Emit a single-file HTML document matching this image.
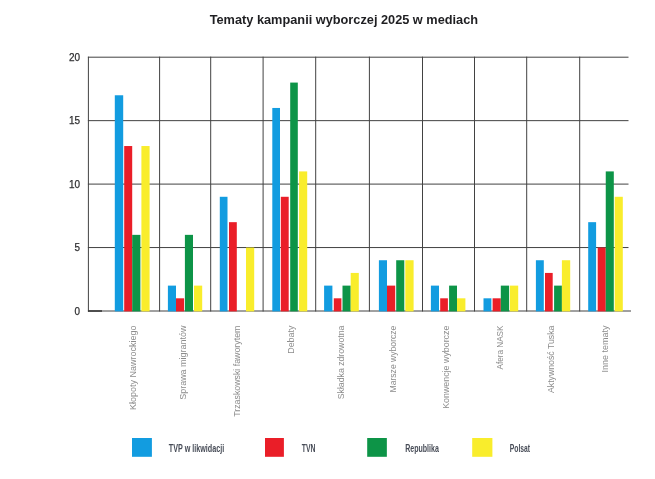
<!DOCTYPE html>
<html lang="pl"><head><meta charset="utf-8"><title>Tematy kampanii wyborczej 2025 w mediach</title>
<style>
html,body{margin:0;padding:0;background:#fff;}
body{width:655px;height:479px;overflow:hidden;position:relative;font-family:"Liberation Sans",sans-serif;}
svg{position:absolute;left:0;top:0;display:block;}
text{font-family:"Liberation Sans",sans-serif;}
.title{font-weight:bold;font-size:13px;fill:#1f1f22;}
.yl{font-size:10.5px;fill:#2e2e30;stroke:#2e2e30;stroke-width:0.25px;text-anchor:end;}
.xl{font-size:9.6px;fill:#8c8c8c;}
.lg{font-size:10.3px;font-weight:bold;fill:#474c57;}
</style></head><body>
<svg width="655" height="479" viewBox="0 0 655 479">
<rect width="655" height="479" fill="#ffffff"/>
<text class="title" x="209.7" y="24" textLength="268.4" lengthAdjust="spacingAndGlyphs">Tematy kampanii wyborczej 2025 w mediach</text>
<g stroke="#424242" stroke-width="1" fill="none">
<line x1="87.9" y1="57.20" x2="628.5" y2="57.20"/>
<line x1="87.9" y1="120.65" x2="628.5" y2="120.65"/>
<line x1="87.9" y1="184.10" x2="628.5" y2="184.10"/>
<line x1="87.9" y1="247.55" x2="628.5" y2="247.55"/>
<line x1="88.4" y1="56.70" x2="88.4" y2="311.50"/>
<line x1="159.6" y1="56.70" x2="159.6" y2="311.50"/>
<line x1="210.7" y1="56.70" x2="210.7" y2="311.50"/>
<line x1="263.1" y1="56.70" x2="263.1" y2="311.50"/>
<line x1="315.7" y1="56.70" x2="315.7" y2="311.50"/>
<line x1="369.4" y1="56.70" x2="369.4" y2="311.50"/>
<line x1="422.5" y1="56.70" x2="422.5" y2="311.50"/>
<line x1="474.5" y1="56.70" x2="474.5" y2="311.50"/>
<line x1="526.7" y1="56.70" x2="526.7" y2="311.50"/>
<line x1="579.7" y1="56.70" x2="579.7" y2="311.50"/>
<line x1="87.9" y1="311.00" x2="631" y2="311.00"/>
</g>
<rect x="88" y="310.20" width="14" height="1.6" fill="#3a3a3a"/>
<rect x="114.80" y="95.27" width="8.40" height="216.13" fill="#129ce0"/>
<rect x="124.20" y="146.03" width="8.00" height="165.37" fill="#ea1e28"/>
<rect x="132.20" y="234.86" width="8.20" height="76.54" fill="#0d9447"/>
<rect x="141.40" y="146.03" width="8.20" height="165.37" fill="#f9ed2c"/>
<rect x="167.90" y="285.62" width="8.10" height="25.78" fill="#129ce0"/>
<rect x="176.00" y="298.31" width="8.10" height="13.09" fill="#ea1e28"/>
<rect x="184.90" y="234.86" width="8.10" height="76.54" fill="#0d9447"/>
<rect x="194.00" y="285.62" width="8.20" height="25.78" fill="#f9ed2c"/>
<rect x="219.80" y="196.79" width="7.70" height="114.61" fill="#129ce0"/>
<rect x="229.00" y="222.17" width="7.80" height="89.23" fill="#ea1e28"/>
<rect x="246.00" y="247.55" width="8.20" height="63.85" fill="#f9ed2c"/>
<rect x="272.30" y="107.96" width="7.70" height="203.44" fill="#129ce0"/>
<rect x="280.80" y="196.79" width="7.90" height="114.61" fill="#ea1e28"/>
<rect x="290.20" y="82.58" width="7.60" height="228.82" fill="#0d9447"/>
<rect x="299.10" y="171.41" width="8.10" height="139.99" fill="#f9ed2c"/>
<rect x="324.10" y="285.62" width="8.30" height="25.78" fill="#129ce0"/>
<rect x="333.80" y="298.31" width="7.60" height="13.09" fill="#ea1e28"/>
<rect x="342.50" y="285.62" width="8.20" height="25.78" fill="#0d9447"/>
<rect x="350.70" y="272.93" width="8.10" height="38.47" fill="#f9ed2c"/>
<rect x="378.90" y="260.24" width="8.10" height="51.16" fill="#129ce0"/>
<rect x="387.00" y="285.62" width="8.20" height="25.78" fill="#ea1e28"/>
<rect x="396.20" y="260.24" width="8.10" height="51.16" fill="#0d9447"/>
<rect x="405.30" y="260.24" width="8.30" height="51.16" fill="#f9ed2c"/>
<rect x="430.90" y="285.62" width="8.10" height="25.78" fill="#129ce0"/>
<rect x="440.20" y="298.31" width="7.70" height="13.09" fill="#ea1e28"/>
<rect x="449.10" y="285.62" width="7.90" height="25.78" fill="#0d9447"/>
<rect x="457.00" y="298.31" width="8.40" height="13.09" fill="#f9ed2c"/>
<rect x="483.50" y="298.31" width="7.90" height="13.09" fill="#129ce0"/>
<rect x="492.60" y="298.31" width="8.20" height="13.09" fill="#ea1e28"/>
<rect x="500.80" y="285.62" width="8.30" height="25.78" fill="#0d9447"/>
<rect x="509.90" y="285.62" width="8.30" height="25.78" fill="#f9ed2c"/>
<rect x="535.90" y="260.24" width="7.90" height="51.16" fill="#129ce0"/>
<rect x="545.00" y="272.93" width="7.70" height="38.47" fill="#ea1e28"/>
<rect x="554.10" y="285.62" width="7.80" height="25.78" fill="#0d9447"/>
<rect x="561.90" y="260.24" width="8.30" height="51.16" fill="#f9ed2c"/>
<rect x="588.20" y="222.17" width="7.90" height="89.23" fill="#129ce0"/>
<rect x="597.70" y="247.55" width="8.05" height="63.85" fill="#ea1e28"/>
<rect x="605.75" y="171.41" width="8.05" height="139.99" fill="#0d9447"/>
<rect x="614.70" y="196.79" width="8.10" height="114.61" fill="#f9ed2c"/>
<text class="yl" x="80" y="60.80" textLength="11.1" lengthAdjust="spacingAndGlyphs">20</text>
<text class="yl" x="80" y="124.25" textLength="11.1" lengthAdjust="spacingAndGlyphs">15</text>
<text class="yl" x="80" y="187.70" textLength="11.1" lengthAdjust="spacingAndGlyphs">10</text>
<text class="yl" x="80" y="251.15" textLength="5.5" lengthAdjust="spacingAndGlyphs">5</text>
<text class="yl" x="80" y="314.60" textLength="5.5" lengthAdjust="spacingAndGlyphs">0</text>
<text class="xl" transform="translate(135.90,410.00) rotate(-90)" textLength="84.4" lengthAdjust="spacingAndGlyphs">Kłopoty Nawrockiego</text>
<text class="xl" transform="translate(186.30,399.80) rotate(-90)" textLength="74.2" lengthAdjust="spacingAndGlyphs">Sprawa migrantów</text>
<text class="xl" transform="translate(240.40,416.80) rotate(-90)" textLength="91.2" lengthAdjust="spacingAndGlyphs">Trzaskowski faworytem</text>
<text class="xl" transform="translate(294.40,353.80) rotate(-90)" textLength="28.2" lengthAdjust="spacingAndGlyphs">Debaty</text>
<text class="xl" transform="translate(344.40,399.30) rotate(-90)" textLength="73.7" lengthAdjust="spacingAndGlyphs">Składka zdrowotna</text>
<text class="xl" transform="translate(395.60,392.50) rotate(-90)" textLength="66.9" lengthAdjust="spacingAndGlyphs">Marsze wyborcze</text>
<text class="xl" transform="translate(448.50,408.80) rotate(-90)" textLength="83.2" lengthAdjust="spacingAndGlyphs">Konwencje wyborcze</text>
<text class="xl" transform="translate(502.50,369.40) rotate(-90)" textLength="43.8" lengthAdjust="spacingAndGlyphs">Afera NASK</text>
<text class="xl" transform="translate(553.50,393.00) rotate(-90)" textLength="67.4" lengthAdjust="spacingAndGlyphs">Aktywność Tuska</text>
<text class="xl" transform="translate(607.50,372.50) rotate(-90)" textLength="46.9" lengthAdjust="spacingAndGlyphs">Inne tematy</text>
<rect x="132.0" y="438.0" width="19.9" height="18.8" fill="#129ce0"/>
<rect x="265.0" y="438.0" width="18.9" height="18.8" fill="#ea1e28"/>
<rect x="367.2" y="438.0" width="19.65" height="18.8" fill="#0d9447"/>
<rect x="472.2" y="438.0" width="20.2" height="18.8" fill="#f9ed2c"/>
<text class="lg" x="168.8" y="451.5" textLength="55.4" lengthAdjust="spacingAndGlyphs">TVP w likwidacji</text>
<text class="lg" x="301.8" y="451.5" textLength="13.7" lengthAdjust="spacingAndGlyphs">TVN</text>
<text class="lg" x="405.2" y="451.5" textLength="33.7" lengthAdjust="spacingAndGlyphs">Republika</text>
<text class="lg" x="509.8" y="451.5" textLength="20.3" lengthAdjust="spacingAndGlyphs">Polsat</text>
</svg>
</body></html>
